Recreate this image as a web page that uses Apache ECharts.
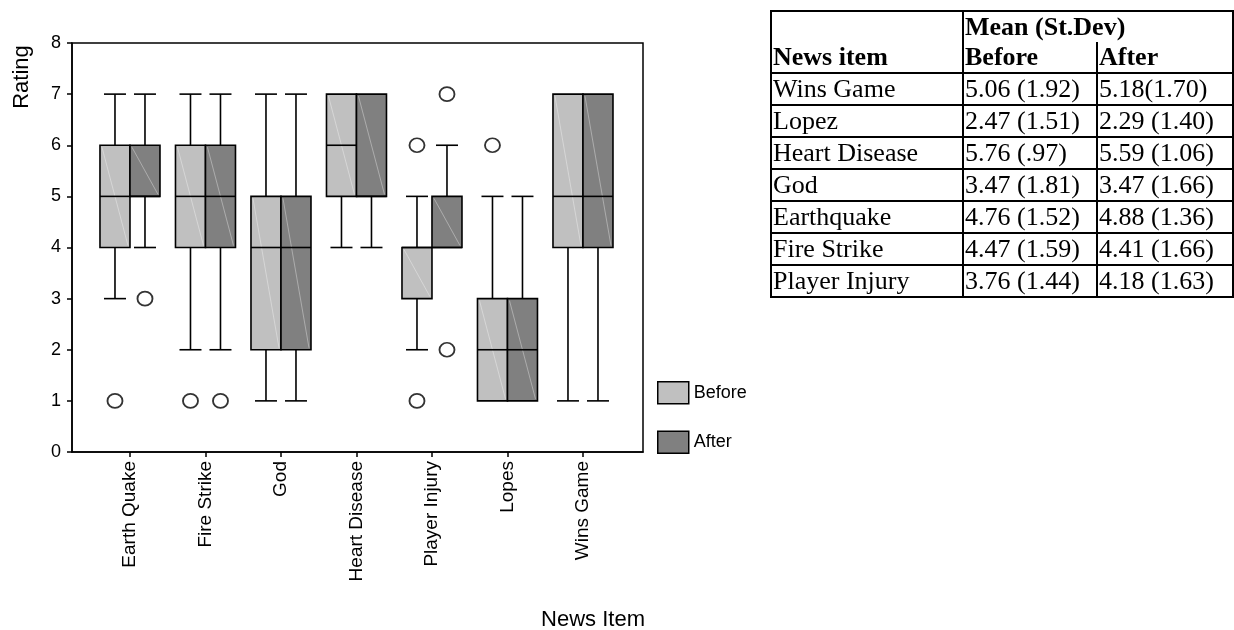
<!DOCTYPE html>
<html>
<head>
<meta charset="utf-8">
<script src="https://cdn.jsdelivr.net/npm/echarts@6/dist/echarts.min.js"></script>
<style>
  html, body { margin:0; padding:0; background:#fff; }
  #chart { position:absolute; left:0; top:0; width:1234px; height:630px; }
  #tbl { position:absolute; left:770px; top:10px; border-collapse:collapse; table-layout:fixed; width:462px;
         font-family:'Liberation Serif','Times New Roman',serif; font-size:26px; color:#000; }
  #tbl td { border:2px solid #000; padding:0 0 0 1px; line-height:30px; height:30px; white-space:nowrap; overflow:hidden; }
  #tbl td.h { font-weight:bold; }
</style>
</head>
<body>
<div id="chart"></div>
<table id="tbl">
  <colgroup><col style="width:192px"><col style="width:134px"><col style="width:136px"></colgroup>
  <tbody id="tbody"></tbody>
</table>
<script>
// ---- chart data ----
const categories = ['Earth Quake', 'Fire Strike', 'God', 'Heart Disease', 'Player Injury', 'Lopes', 'Wins Game'];
// [low whisker, Q1, median, Q3, high whisker]
const beforeBox = [[3,4,5,6,7],[2,4,5,6,7],[1,2,4,5,7],[4,5,6,7,7],[2,3,4,4,5],[1,1,2,3,5],[1,4,5,7,7]];
const afterBox  = [[4,5,5,6,7],[2,4,5,6,7],[1,2,4,5,7],[4,5,5,7,7],[4,4,4,5,6],[1,1,2,3,5],[1,4,5,7,7]];
// [category index, rating]
const beforeOutliers = [[0,1],[1,1],[4,6],[4,1],[5,6]];
const afterOutliers  = [[0,3],[1,1],[4,7],[4,2]];
const yTicks = [0,1,2,3,4,5,6,7,8];

// ---- table data ----
const tableItems  = ['Wins Game','Lopez','Heart Disease','God','Earthquake','Fire Strike','Player Injury'];
const tableBefore = ['5.06 (1.92)','2.47 (1.51)','5.76 (.97)','3.47 (1.81)','4.76 (1.52)','4.47 (1.59)','3.76 (1.44)'];
const tableAfter  = ['5.18(1.70)','2.29 (1.40)','5.59 (1.06)','3.47 (1.66)','4.88 (1.36)','4.41 (1.66)','4.18 (1.63)'];

// build table
(function(){
  const tb = document.getElementById('tbody');
  let html = '<tr><td class="h" rowspan="2" style="vertical-align:bottom">News item</td>' +
             '<td class="h" colspan="2" style="border-bottom:none;height:29px">Mean (St.Dev)</td></tr>' +
             '<tr><td class="h" style="border-top:none">Before</td><td class="h" style="border-top:none">After</td></tr>';
  for (let i = 0; i < tableItems.length; i++) {
    html += '<tr><td>' + tableItems[i] + '</td><td>' + tableBefore[i] + '</td><td>' + tableAfter[i] + '</td></tr>';
  }
  tb.innerHTML = html;
})();

const FONT = "'Liberation Sans', Arial, sans-serif";
const beforeColor = '#c0c0c0';
const afterColor = '#808080';

function makeRender(offset, fill) {
  return function (params, api) {
    const x = api.value(0);
    const c = [1,2,3,4,5].map(function (i) { return api.coord([x, api.value(i)]); });
    const cx = c[0][0] + offset;
    const yLow = c[0][1], yQ1 = c[1][1], yMed = c[2][1], yQ3 = c[3][1], yHigh = c[4][1];
    const hw = 15, cw = 11;
    const ls = { stroke: '#000', lineWidth: 1.6 };
    const ch = [];
    if (yHigh < yQ3 - 0.5) {
      ch.push({ type: 'line', shape: { x1: cx, y1: yQ3, x2: cx, y2: yHigh }, style: ls });
      ch.push({ type: 'line', shape: { x1: cx - cw, y1: yHigh, x2: cx + cw, y2: yHigh }, style: ls });
    }
    if (yLow > yQ1 + 0.5) {
      ch.push({ type: 'line', shape: { x1: cx, y1: yQ1, x2: cx, y2: yLow }, style: ls });
      ch.push({ type: 'line', shape: { x1: cx - cw, y1: yLow, x2: cx + cw, y2: yLow }, style: ls });
    }
    ch.push({ type: 'rect', shape: { x: cx - hw, y: yQ3, width: 2 * hw, height: yQ1 - yQ3 },
              style: { fill: fill, stroke: '#000', lineWidth: 1.6 } });
    ch.push({ type: 'line', shape: { x1: cx - hw + 2, y1: yQ3 + 2, x2: cx + hw - 2, y2: yQ1 - 2 },
              style: { stroke: 'rgba(255,255,255,0.35)', lineWidth: 1 } });
    ch.push({ type: 'line', shape: { x1: cx - hw, y1: yMed, x2: cx + hw, y2: yMed }, style: ls });
    return { type: 'group', children: ch };
  };
}

const chart = echarts.init(document.getElementById('chart'), null, { renderer: 'canvas' });
chart.setOption({
  animation: false,
  backgroundColor: '#fff',
  textStyle: { fontFamily: FONT },
  grid: { left: 72, right: 591, top: 43, bottom: 178, show: true, borderColor: '#000', borderWidth: 1.5, containLabel: false },
  xAxis: {
    type: 'value', min: -0.768, max: 6.795,
    axisLine: { show: true, onZero: false, lineStyle: { color: '#000', width: 1.5 } },
    axisTick: { show: true, inside: false, length: 5, customValues: categories.map(function (c, i) { return i; }), lineStyle: { color: '#000', width: 1.5 } },
    axisLabel: { show: true, rotate: 90, margin: 9, fontSize: 19, color: '#000', fontFamily: FONT,
                 customValues: categories.map(function (c, i) { return i; }),
                 formatter: function (v) { return categories[Math.round(v)]; } },
    splitLine: { show: false }
  },
  yAxis: {
    type: 'value', min: 0, max: 8, interval: 1,
    axisLine: { show: true, onZero: false, lineStyle: { color: '#000', width: 1.5 } },
    axisTick: { show: true, inside: false, length: 5, lineStyle: { color: '#000', width: 1.5 } },
    axisLabel: { fontSize: 18, color: '#000', margin: 11, fontFamily: FONT, formatter: function (v) { return yTicks.indexOf(v) >= 0 ? String(v) : ''; } },
    splitLine: { show: false }
  },
  legend: {
    orient: 'vertical', left: 657, top: 381, padding: 0, itemWidth: 31, itemHeight: 22, itemGap: 26,
    icon: 'rect', textStyle: { fontSize: 18, color: '#000', fontFamily: FONT },
    selectedMode: false,
    data: [
      { name: 'Before', itemStyle: { color: beforeColor, borderColor: '#000', borderWidth: 1.5 } },
      { name: 'After', itemStyle: { color: afterColor, borderColor: '#000', borderWidth: 1.5 } }
    ]
  },
  graphic: [
    { type: 'text', x: 22, y: 77, rotation: Math.PI / 2,
      style: { text: 'Rating', font: '22px ' + FONT, fill: '#000', align: 'center', verticalAlign: 'middle' } },
    { type: 'text', x: 593, y: 620,
      style: { text: 'News Item', font: '22px ' + FONT, fill: '#000', align: 'center', verticalAlign: 'middle' } }
  ],
  series: [
    { name: 'Before', type: 'custom', renderItem: makeRender(-15, beforeColor),
      itemStyle: { color: beforeColor, borderColor: '#000', borderWidth: 1.5 },
      encode: { x: 0, y: [1,2,3,4,5] },
      data: beforeBox.map(function (r, i) { return [i].concat(r); }) },
    { name: 'After', type: 'custom', renderItem: makeRender(15, afterColor),
      itemStyle: { color: afterColor, borderColor: '#000', borderWidth: 1.5 },
      encode: { x: 0, y: [1,2,3,4,5] },
      data: afterBox.map(function (r, i) { return [i].concat(r); }) },
    { name: 'Before outliers', type: 'scatter', symbol: 'circle', symbolSize: [15, 14], symbolOffset: [-15, 0],
      itemStyle: { color: '#fff', borderColor: '#000', borderWidth: 1.8 }, z: 5,
      data: beforeOutliers },
    { name: 'After outliers', type: 'scatter', symbol: 'circle', symbolSize: [15, 14], symbolOffset: [15, 0],
      itemStyle: { color: '#fff', borderColor: '#000', borderWidth: 1.8 }, z: 5,
      data: afterOutliers }
  ]
});
</script>
</body>
</html>
